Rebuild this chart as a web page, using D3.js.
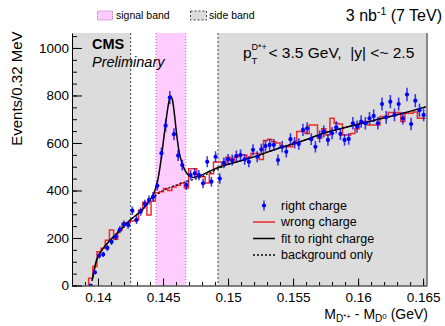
<!DOCTYPE html>
<html>
<head>
<meta charset="utf-8">
<script src="https://cdn.jsdelivr.net/npm/d3@7"></script>
<style>
  body { margin: 0; background: #fff; }
  svg { display: block; font-family: "Liberation Sans", Arial, sans-serif; }
</style>
</head>
<body>
<svg id="chart" width="445" height="326"></svg>
<script>
// histogram binning (0.32 MeV bins), first filled bin starts here
const binWidth = 0.00032;
const firstBinLow = 0.13928;

// right charge D*+ candidates, events per bin
const rightCharge = [
  0, 55, 125, 131, 158, 184, 205, 235, 258, 255,
  315, 276, 311, 343, 360, 374, 420, 557, 673, 791,
  637, 547, 507, 423, 465, 472, 465, 430, 521, 437,
  542, 450, 516, 531, 528, 545, 549, 531, 521, 571,
  542, 573, 587, 592, 592, 528, 584, 563, 616, 601,
  596, 655, 662, 616, 584, 627, 648, 613, 641, 666,
  638, 613, 617, 683, 669, 690, 683, 704, 714, 683,
  764, 708, 774, 718, 764, 704, 804, 680, 778, 738,
  718
];

// wrong charge combinations, events per bin
const wrongCharge = [
  30, 80, 142, 157, 190, 234, 195, 232, 262, 264,
  272, 276, 318, 350, 297, 355, 390, 395, 408, 400,
  415, 422, 432, 410, 492, 492, 458, 458, 432, 470,
  520, 520, 508, 540, 525, 542, 549, 549, 540, 556,
  556, 530, 610, 616, 605, 600, 584, 584, 584, 600,
  648, 648, 640, 676, 676, 620, 660, 634, 704, 683,
  680, 634, 634, 640, 660, 683, 690, 676, 676, 676,
  711, 711, 728, 728, 728, 690, 725, 725, 730, 704,
  704
];

// fit to right charge
const fitX = [0.13954, 0.13969, 0.13985, 0.14008, 0.14038, 0.14092, 0.14169, 0.14246, 0.14323, 0.14400,
  0.14438, 0.14462, 0.14485, 0.14508, 0.14527, 0.14542, 0.14558, 0.14573, 0.14588, 0.14604,
  0.14623, 0.14646, 0.14669, 0.14700, 0.14731, 0.14785, 0.14862, 0.14938, 0.15092, 0.15246,
  0.15400, 0.15554, 0.15746, 0.15938, 0.16115, 0.16323, 0.16520];
const fitY = [20, 60, 100, 130, 155, 190, 232, 275, 310, 360,
  400, 450, 530, 630, 710, 765, 798, 780, 720, 640,
  565, 515, 485, 462, 455, 462, 482, 500, 524, 550,
  580, 605, 643, 670, 694, 722, 752];

// background-only component
const bkgX = [0.13954, 0.13969, 0.13985, 0.14008, 0.14038, 0.14092, 0.14169, 0.14246, 0.14323, 0.14400,
  0.14477, 0.14554, 0.14631, 0.14708, 0.14785, 0.14862, 0.14938, 0.15092, 0.15246, 0.15400,
  0.15554, 0.15746, 0.15938, 0.16115, 0.16323, 0.16520];
const bkgY = [20, 60, 100, 130, 155, 190, 232, 275, 310, 355,
  392, 413, 428, 442, 455, 475, 495, 524, 550, 580,
  605, 643, 670, 694, 722, 752];

const xTicks = [0.14, 0.145, 0.15, 0.155, 0.16, 0.165];
const yTicks = [0, 200, 400, 600, 800, 1000];
const sideBand = [0.14251, 0.14923];
const signalBand = [0.14446, 0.14675];

const width = 445, height = 326;
const margin = { top: 33, right: 18, bottom: 40.5, left: 72 };
const xDomain = [0.138, 0.1653];

const x = d3.scaleLinear().domain(xDomain).range([margin.left, width - margin.right]);
const y = d3.scaleLinear().domain([0, 1063]).range([height - margin.bottom, margin.top]);

const svg = d3.select("#chart");

svg.append("defs").append("clipPath").attr("id", "plot")
  .append("rect")
  .attr("x", margin.left).attr("y", margin.top)
  .attr("width", width - margin.left - margin.right)
  .attr("height", height - margin.top - margin.bottom);

const plot = svg.append("g").attr("clip-path", "url(#plot)");

// side bands (gray) and signal band (pink)
const plotTop = y.range()[1], plotBottom = y.range()[0];
plot.selectAll("rect.side")
  .data([[xDomain[0], sideBand[0]], [sideBand[1], xDomain[1]]])
  .enter().append("rect")
  .attr("class", "side")
  .attr("x", d => x(d[0]))
  .attr("y", plotTop)
  .attr("width", d => x(d[1]) - x(d[0]))
  .attr("height", plotBottom - plotTop)
  .attr("fill", "#dcdcdc");

plot.append("rect")
  .attr("x", x(signalBand[0]))
  .attr("y", plotTop)
  .attr("width", x(signalBand[1]) - x(signalBand[0]))
  .attr("height", plotBottom - plotTop)
  .attr("fill", "#ffccff");

plot.selectAll("line.sideEdge")
  .data(sideBand)
  .enter().append("line")
  .attr("x1", d => x(d)).attr("x2", d => x(d))
  .attr("y1", plotTop).attr("y2", plotBottom)
  .attr("stroke", "#444")
  .attr("stroke-width", 1)
  .attr("stroke-dasharray", "2,2");

plot.selectAll("line.sigEdge")
  .data(signalBand)
  .enter().append("line")
  .attr("x1", d => x(d)).attr("x2", d => x(d))
  .attr("y1", plotTop).attr("y2", plotBottom)
  .attr("stroke", "#b56fb5")
  .attr("stroke-width", 1)
  .attr("stroke-dasharray", "1,2");

// wrong charge histogram as steps
const steps = [[firstBinLow, 0]];
wrongCharge.forEach((v, i) => steps.push([firstBinLow + i * binWidth, v]));
steps.push([firstBinLow + wrongCharge.length * binWidth, wrongCharge[wrongCharge.length - 1]]);

plot.append("path")
  .attr("d", d3.line().x(d => x(d[0])).y(d => y(d[1])).curve(d3.curveStepAfter)(steps))
  .attr("fill", "none")
  .attr("stroke", "#ee2a2a")
  .attr("stroke-width", 1.5);

// background only (dotted) then the full fit
const curve = d3.line().x(d => x(d[0])).y(d => y(d[1])).curve(d3.curveMonotoneX);
plot.append("path")
  .attr("d", curve(bkgX.map((v, i) => [v, bkgY[i]])))
  .attr("fill", "none")
  .attr("stroke", "#000")
  .attr("stroke-width", 1.2)
  .attr("stroke-dasharray", "2,2");

plot.append("path")
  .attr("d", curve(fitX.map((v, i) => [v, fitY[i]])))
  .attr("fill", "none")
  .attr("stroke", "#000")
  .attr("stroke-width", 1.5);

// right charge points with sqrt(N) errors
const pts = plot.selectAll("g.pt")
  .data(rightCharge)
  .enter().append("g")
  .attr("class", "pt")
  .attr("transform", (d, i) => `translate(${x(firstBinLow + (i + 0.5) * binWidth)},0)`);

pts.append("line")
  .attr("y1", d => y(d - Math.sqrt(d)))
  .attr("y2", d => y(d + Math.sqrt(d)))
  .attr("stroke", "#0000ee")
  .attr("stroke-opacity", 0.75)
  .attr("stroke-width", 1.6);

pts.append("circle")
  .attr("cy", d => y(d))
  .attr("r", 2.1)
  .attr("fill", "#0000ff");

// frame right edge
svg.append("line")
  .attr("x1", width - margin.right).attr("x2", width - margin.right)
  .attr("y1", plotTop).attr("y2", plotBottom)
  .attr("stroke", "#666").attr("stroke-width", 1.5);

// axes, ticks pointing inside
const fontSize = "13.5px";
svg.append("g")
  .attr("transform", `translate(0,${plotBottom})`)
  .call(d3.axisBottom(x).ticks(27).tickFormat("").tickSize(-3.5).tickSizeOuter(0))
  .call(g => g.select(".domain").remove());

svg.append("g")
  .attr("transform", `translate(0,${plotBottom})`)
  .call(d3.axisBottom(x).tickValues(xTicks).tickFormat(d => String(d)).tickSize(-7).tickSizeOuter(0).tickPadding(7))
  .call(g => g.selectAll("text").attr("font-size", fontSize).attr("font-family", null));

svg.append("g")
  .attr("transform", `translate(${margin.left},0)`)
  .call(d3.axisLeft(y).ticks(21).tickFormat("").tickSize(-5).tickSizeOuter(0))
  .call(g => g.select(".domain").remove());

svg.append("g")
  .attr("transform", `translate(${margin.left},0)`)
  .call(d3.axisLeft(y).tickValues(yTicks).tickFormat(d3.format("d")).tickSize(-10).tickSizeOuter(0).tickPadding(3))
  .call(g => g.selectAll("text").attr("font-size", fontSize).attr("font-family", null));

svg.selectAll(".tick line, .domain").attr("stroke", "#000");

// axis titles
svg.append("text")
  .attr("transform", "rotate(-90)")
  .attr("x", -31.5).attr("y", 21.5)
  .attr("text-anchor", "end")
  .attr("font-size", "15px")
  .text("Events/0.32 MeV");

const xt = svg.append("text")
  .attr("x", 428).attr("y", 319)
  .attr("text-anchor", "end")
  .attr("font-size", "14px");
xt.append("tspan").text("M");
xt.append("tspan").attr("font-size", "10px").attr("dy", 3).text("D");
xt.append("tspan").attr("font-size", "8px").attr("dy", -3).text("*+");
xt.append("tspan").attr("dy", 0).text(" - M");
xt.append("tspan").attr("font-size", "10px").attr("dy", 3).text("D");
xt.append("tspan").attr("font-size", "8px").attr("dy", -3).text("0");
xt.append("tspan").text(" (GeV)");

// header texts
svg.append("text")
  .attr("x", 92).attr("y", 48.5)
  .attr("font-size", "14.5px").attr("font-weight", "bold")
  .text("CMS");
svg.append("text")
  .attr("x", 92).attr("y", 67)
  .attr("font-size", "14.5px").attr("font-style", "italic")
  .text("Preliminary");

const lum = svg.append("text")
  .attr("x", 442).attr("y", 21)
  .attr("text-anchor", "end")
  .attr("font-size", "16px");
lum.append("tspan").text("3 nb");
lum.append("tspan").attr("font-size", "10.5px").attr("dy", -6).text("-1");
lum.append("tspan").attr("dy", 6).text(" (7 TeV)");

svg.append("text").attr("x", 243).attr("y", 57.5).attr("font-size", "15.5px").text("p");
svg.append("text").attr("x", 251.5).attr("y", 64).attr("font-size", "9.5px").text("T");
svg.append("text").attr("x", 251.5).attr("y", 49.5).attr("font-size", "9px").text("D*+");
svg.append("text").attr("x", 268.5).attr("y", 57.5).attr("font-size", "15.5px")
  .style("white-space", "pre")
  .text("< 3.5 GeV,  |y| <~ 2.5");

// top legend for the bands
svg.append("rect").attr("x", 97.5).attr("y", 11).attr("width", 15).attr("height", 9)
  .attr("fill", "#ffccff").attr("stroke", "#b56fb5").attr("stroke-dasharray", "1,1");
svg.append("text").attr("x", 116).attr("y", 18.5).attr("font-size", "10.5px").text("signal band");
svg.append("rect").attr("x", 190.5).attr("y", 11).attr("width", 16).attr("height", 9)
  .attr("fill", "#dcdcdc").attr("stroke", "#444").attr("stroke-dasharray", "2,2");
svg.append("text").attr("x", 209).attr("y", 18.5).attr("font-size", "10.5px").text("side band");

// legend
const legendItems = ["right charge", "wrong charge", "fit to right charge", "background only"];
const leg = svg.append("g").attr("font-size", "12.5px");
legendItems.forEach((name, i) => {
  const by = 209.5 + i * 16.5;
  leg.append("text").attr("x", 281).attr("y", by).text(name);
  const cy = by - 4;
  if (i === 0) {
    leg.append("line").attr("x1", 264).attr("x2", 264).attr("y1", cy - 5).attr("y2", cy + 5)
      .attr("stroke", "#0000ee").attr("stroke-opacity", 0.75).attr("stroke-width", 1.5);
    leg.append("circle").attr("cx", 264).attr("cy", cy).attr("r", 2.1).attr("fill", "#0000ff");
  } else {
    const styles = [null, ["#ee2a2a", null], ["#000", null], ["#000", "2,2"]][i];
    leg.append("line").attr("x1", 253).attr("x2", 275).attr("y1", cy).attr("y2", cy)
      .attr("stroke", styles[0]).attr("stroke-width", 1.5)
      .attr("stroke-dasharray", styles[1]);
  }
});
</script>
</body>
</html>
